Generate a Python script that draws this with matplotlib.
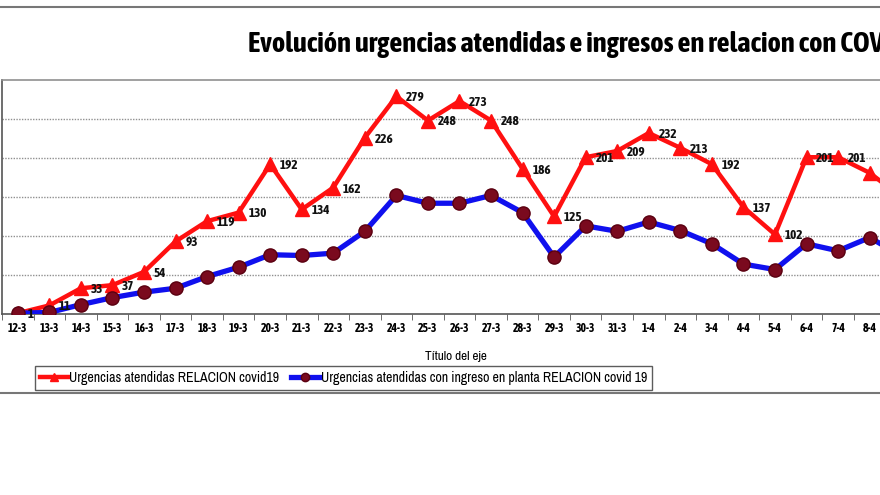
import matplotlib
matplotlib.use("Agg")
from matplotlib import pyplot as plt
from matplotlib.lines import Line2D
import numpy as np

dates = ["12-3", "13-3", "14-3", "15-3", "16-3", "17-3", "18-3", "19-3", "20-3",
         "21-3", "22-3", "23-3", "24-3", "25-3", "26-3", "27-3", "28-3", "29-3",
         "30-3", "31-3", "1-4", "2-4", "3-4", "4-4", "5-4", "6-4", "7-4", "8-4", "9-4"]
urgencias = [1, 11, 33, 37, 54, 93, 119, 130, 192, 134, 162, 226, 279, 248, 273,
             248, 186, 125, 201, 209, 232, 213, 192, 137, 102, 201, 201, 181, 150]
ingresos = [1, 2, 12, 21, 28, 33, 48, 60, 76, 75, 78, 106, 152, 142, 142, 152,
            130, 73, 113, 106, 118, 107, 90, 64, 57, 90, 81, 98, 75]
n_labeled = 27  # las etiquetas de 8-4 y 9-4 quedan fuera del recorte

# fuentes estrechas (tipo Arial Narrow)
NARROW = ["Archivo Narrow", "Asap Condensed", "Liberation Sans"]
NARROW_BOLD = ["Asap Condensed", "Liberation Sans"]

W, H = 880, 495
step = 31.55  # px por categoria
fig = plt.figure(figsize=(W / 100, H / 100), dpi=100)
ax = fig.add_axes([2 / W, (H - 314) / H, len(dates) * step / W, (314 - 80) / H])

x = np.arange(len(dates))
ax.plot(x, urgencias, color="#ff1010", lw=3.2, marker="^", ms=10,
        mfc="#ff1010", mec="#ff1010", zorder=3)
ax.plot(x, ingresos, color="#1010ee", lw=3.8, marker="o", ms=9.5,
        mfc="#7a0a1e", mec="#5a0010", zorder=4)

# etiquetas de la serie roja
for xi, v in zip(x[:n_labeled], urgencias[:n_labeled]):
    ax.annotate(str(v), xy=(xi, v), xytext=(7, -1), textcoords="offset points",
                ha="left", va="center", fontsize=9.5, fontweight="bold",
                family=NARROW_BOLD, color="#111111", zorder=5)

ax.set_xlim(-0.5, len(dates) - 0.5)
ax.set_ylim(0, 300)
ax.set_yticks([50, 100, 150, 200, 250])
ax.set_yticklabels([])
ax.tick_params(axis="y", length=0)
ax.grid(axis="y", color="#909090", ls=(0, (1, 1)), lw=1.0)
ax.set_axisbelow(True)

ax.set_xticks(x)
ax.set_xticklabels(dates, fontsize=8.5, fontweight="bold", family=NARROW_BOLD)
ax.set_xticks(np.arange(-0.5, len(dates), 1), minor=True)
ax.tick_params(axis="x", which="major", length=0, pad=6)
ax.tick_params(axis="x", which="minor", length=4, color="#555555")

ax.spines["right"].set_visible(False)
ax.spines["top"].set_color("#909090")
ax.spines["top"].set_linewidth(1.2)
ax.spines["left"].set_color("#555555")
ax.spines["left"].set_linewidth(1.2)
ax.spines["bottom"].set_color("#555555")
ax.spines["bottom"].set_linewidth(1.2)

fig.text(248 / W, 1 - 44 / H, "Evolución urgencias atendidas e ingresos en relacion con COVID 19",
         ha="left", va="center", fontsize=20.5, fontweight="bold", family=NARROW_BOLD)
fig.text(456 / W, 1 - 356 / H, "Título del eje", ha="center", va="center",
         fontsize=9.5, family=NARROW)

handles = [
    Line2D([], [], color="#ff1010", lw=3.2, marker="^", ms=6, mfc="#ff1010"),
    Line2D([], [], color="#1010ee", lw=3.8, marker="o", ms=6, mfc="#7a0a1e", mec="#5a0010"),
]
leg = fig.legend(handles, ["Urgencias atendidas RELACION covid19",
                           "Urgencias atendidas con ingreso en planta RELACION covid 19"],
                 loc="center left", bbox_to_anchor=(28 / W, 1 - 378 / H), ncol=2,
                 frameon=True, fancybox=False, handlelength=2.0, handletextpad=0.1,
                 columnspacing=0.9, borderpad=0.35,
                 prop={"family": NARROW, "size": 10})
leg.get_frame().set_edgecolor("#333333")
leg.get_frame().set_linewidth(1.0)

# marco exterior del grafico
fig.add_artist(Line2D([0, 1], [1 - 7 / H, 1 - 7 / H], transform=fig.transFigure,
                      color="#777777", lw=1.5))
fig.add_artist(Line2D([0, 1], [1 - 393 / H, 1 - 393 / H], transform=fig.transFigure,
                      color="#777777", lw=1.5))

plt.savefig("out.png", dpi=100)
